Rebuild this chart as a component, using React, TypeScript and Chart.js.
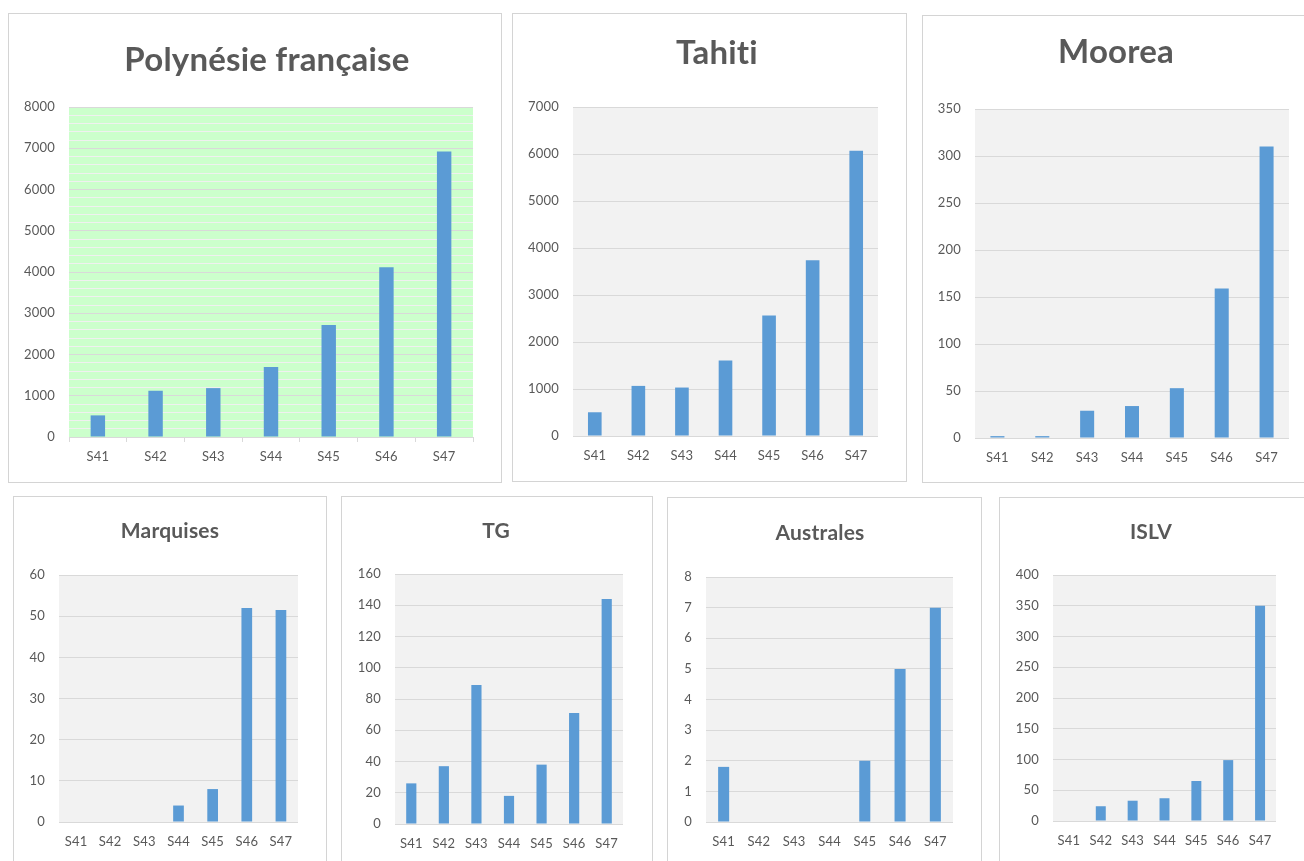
import React, { useEffect, useRef } from 'react';
import { Chart, registerables } from 'chart.js';

Chart.register(...registerables);

// ---------- DATA ----------
const weeks = ['S41', 'S42', 'S43', 'S44', 'S45', 'S46', 'S47'];
const polynesieValues = [524, 1121, 1185, 1694, 2718, 4113, 6919];
const tahitiValues = [505, 1066, 1031, 1606, 2566, 3738, 6070];
const mooreaValues = [2, 2, 29, 34, 53, 159, 310];
const marquisesValues = [0, 0, 0, 4, 8, 52, 51.5];
const tgValues = [26, 37, 89, 18, 38, 71, 144];
const australesValues = [1.8, 0, 0, 0, 2, 5, 7];
const islvValues = [0, 24, 33, 37, 65, 99, 350];

// ---------- LAYOUT / STYLE ----------
type Panel = {
  title: string;
  values: number[];
  max: number;
  step: number;
  labelStep: number;
  box: [number, number, number, number]; // x, y, w, h
  plot: [number, number, number, number]; // left, top, right, bottom
  titleX: number;
  titleY: number;
  titleSize: number;
  bg: string;
  barPct: number;
  xTicks: boolean;
};

const FONT = 'Lato, "Open Sans", sans-serif';
const TEXT = '#595959';
const GRID = '#d9d9d9';
const BAR = '#5b9bd5';

const panels: Panel[] = [
  { title: 'Polynésie française', values: polynesieValues, max: 8000, step: 200, labelStep: 1000,
    box: [8, 13, 494, 470], plot: [69, 107, 473, 437], titleX: 267, titleY: 60, titleSize: 33, bg: '#ccffcc', barPct: 0.25, xTicks: true },
  { title: 'Tahiti', values: tahitiValues, max: 7000, step: 1000, labelStep: 1000,
    box: [512, 13, 395, 469], plot: [573, 107, 878, 436], titleX: 717, titleY: 53, titleSize: 33, bg: '#f2f2f2', barPct: 0.313, xTicks: false },
  { title: 'Moorea', values: mooreaValues, max: 350, step: 50, labelStep: 50,
    box: [922, 15, 390, 468], plot: [975, 109, 1289, 438], titleX: 1116, titleY: 52, titleSize: 33, bg: '#f2f2f2', barPct: 0.313, xTicks: false },
  { title: 'Marquises', values: marquisesValues, max: 60, step: 10, labelStep: 10,
    box: [13, 496, 314, 380], plot: [59, 575, 298, 822], titleX: 170, titleY: 531, titleSize: 21, bg: '#f2f2f2', barPct: 0.313, xTicks: false },
  { title: 'TG', values: tgValues, max: 160, step: 20, labelStep: 20,
    box: [341, 496, 312, 380], plot: [395, 574, 623, 824], titleX: 496, titleY: 531, titleSize: 21, bg: '#f2f2f2', barPct: 0.313, xTicks: false },
  { title: 'Australes', values: australesValues, max: 8, step: 1, labelStep: 1,
    box: [667, 497, 315, 380], plot: [706, 577, 953, 822], titleX: 820, titleY: 533, titleSize: 21, bg: '#f2f2f2', barPct: 0.313, xTicks: false },
  { title: 'ISLV', values: islvValues, max: 400, step: 50, labelStep: 50,
    box: [999, 497, 313, 380], plot: [1053, 575, 1276, 821], titleX: 1151, titleY: 532, titleSize: 21, bg: '#f2f2f2', barPct: 0.313, xTicks: false },
];

const plotBg = {
  id: 'plotBg',
  afterLayout(chart: any, _args: any, opts: any) {
    // move the centred title box so its centre lands at the requested x
    const t = chart.titleBlock;
    if (t && typeof opts.titleX === 'number') {
      const shift = opts.titleX - (t.left + t.right) / 2;
      t.left += shift;
      t.right += shift;
    }
  },
  beforeDraw(chart: any, _args: any, opts: any) {
    const { ctx, chartArea: a } = chart;
    // tiny letter spacing disables optional ligatures (e.g. "ti")
    try {
      (ctx as any).letterSpacing = '0.2px';
    } catch (e) {
      /* ignore */
    }
    ctx.save();
    ctx.fillStyle = opts.color;
    ctx.fillRect(a.left, a.top, a.right - a.left, a.bottom - a.top);
    ctx.restore();
  },
};

function MiniChart({ p }: { p: Panel }) {
  const ref = useRef<HTMLCanvasElement | null>(null);
  const [bx, by, bw, bh] = p.box;
  const ox = bx + 1;
  const oy = by + 1;
  const cw = bw - 2;
  const ch = bh - 2;

  useEffect(() => {
    if (!ref.current) return;
    const [pl, pt, pr, pb] = p.plot;
    const xH = 40;
    const padRight = ox + cw - pr;
    const yW = pl - ox;
    const padBottom = oy + ch - pb - xH;
    const lh = p.titleSize * 1.2;
    const tTop = p.titleY - oy - lh / 2;
    const tBottom = pt - oy - tTop - lh;

    const chart = new Chart(ref.current, {
      type: 'bar',
      data: {
        labels: weeks,
        datasets: [
          {
            data: p.values,
            backgroundColor: BAR,
            borderWidth: 0,
            categoryPercentage: 1,
            barPercentage: p.barPct,
          },
        ],
      },
      plugins: [plotBg],
      options: {
        responsive: false,
        animation: false,
        devicePixelRatio: 1,
        layout: { padding: { left: 0, right: padRight, top: 0, bottom: padBottom } },
        plugins: {
          legend: { display: false },
          tooltip: { enabled: false },
          title: {
            display: true,
            text: p.title,
            color: TEXT,
            font: { family: FONT, size: p.titleSize, weight: 'bold', lineHeight: 1.2 },
            padding: { top: tTop, bottom: tBottom },
          },
          plotBg: { color: p.bg, titleX: p.titleX - ox },
        } as any,
        scales: {
          x: {
            grid: {
              display: p.xTicks,
              drawOnChartArea: false,
              drawTicks: p.xTicks,
              tickLength: 5,
              color: GRID,
              offset: true,
            },
            border: { display: p.xTicks, color: GRID },
            ticks: {
              color: TEXT,
              font: { family: FONT, size: 13 },
              padding: p.xTicks ? 7 : 12,
              maxRotation: 0,
              autoSkip: false,
            },
            afterFit: (s: any) => {
              s.height = xH;
            },
          },
          y: {
            min: 0,
            max: p.max,
            grid: {
              drawTicks: false,
              color: (c: any) => {
                const v = c.tick ? c.tick.value : 0;
                return Math.abs(v % p.labelStep) < 1e-9 ? GRID : '#f0f0f0';
              },
              lineWidth: 1,
            },
            border: { display: false },
            ticks: {
              stepSize: p.step,
              maxTicksLimit: 1000,
              autoSkip: false,
              color: TEXT,
              font: { family: FONT, size: 13 },
              padding: 14,
              callback: (v: any) => (Math.abs(Number(v) % p.labelStep) < 1e-9 ? String(v) : ''),
            },
            afterFit: (s: any) => {
              s.width = yW;
            },
          },
        },
      } as any,
    });
    return () => chart.destroy();
  }, []);

  return (
    <div
      style={{
        position: 'absolute',
        left: bx,
        top: by,
        width: bw,
        height: bh,
        boxSizing: 'border-box',
        border: '1px solid #d4d4d4',
        background: '#ffffff',
      }}
    >
      <canvas ref={ref} width={cw} height={ch} style={{ display: 'block', width: cw, height: ch }} />
    </div>
  );
}

export default function App() {
  return (
    <div
      style={{
        position: 'absolute',
        left: 0,
        top: 0,
        width: 1304,
        height: 861,
        overflow: 'hidden',
        background: '#ffffff',
      }}
    >
      {panels.map((p) => (
        <MiniChart key={p.title} p={p} />
      ))}
    </div>
  );
}
